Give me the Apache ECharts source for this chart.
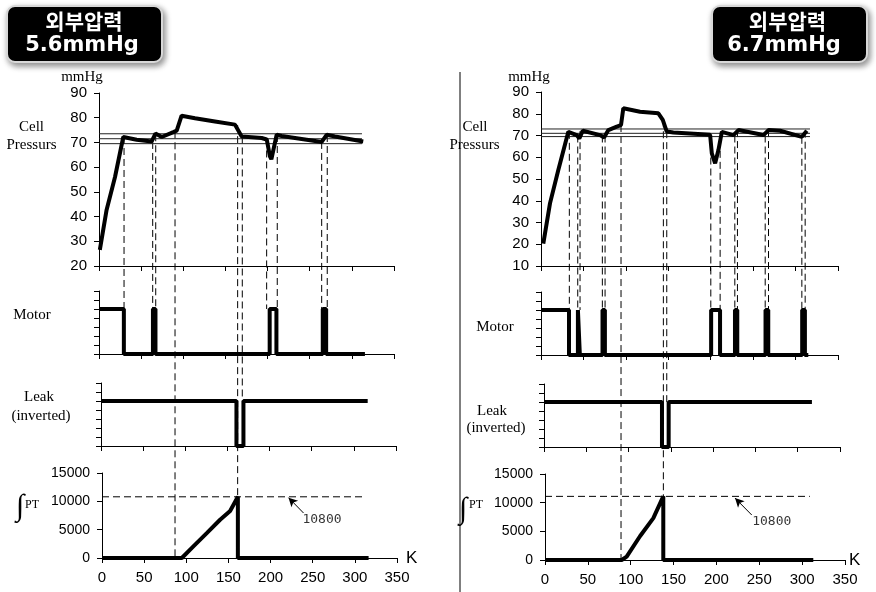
<!DOCTYPE html>
<html>
<head>
<meta charset="utf-8">
<script src="https://cdn.jsdelivr.net/npm/echarts@6/dist/echarts.min.js"></script>
<style>
  html, body { margin: 0; padding: 0; background: #fff; }
  #chart { width: 876px; height: 592px; }
</style>
</head>
<body>
<div id="chart"></div>
<script>
// ---- data ----
const pressureLeft = [[1,26.5],[9,42.7],[19,56],[28.8,72.2],[44.7,71.1],[62.5,70.4],[64.5,69.6],[67,73.6],[74.4,72.2],[88.2,74.2],[92.2,74.8],[98,80.8],[113.9,79.8],[137.6,78.5],[161.3,77.2],[169.3,72.4],[193,71.8],[199,71.2],[202.8,64.4],[204.5,63.2],[206.8,64],[210.8,73.1],[216.7,72.6],[264.2,70.2],[266,69.8],[270.1,73.1],[280,72.4],[313.5,70.4]];
const pressureRight = [[2.7,20.3],[10.6,38.8],[20.4,54.1],[32.2,71.7],[42.1,70.2],[45.2,68.6],[49.2,72.2],[69.6,70.2],[74.3,69.1],[79.4,72.5],[89.3,74.1],[94.3,74.8],[97,82.5],[116.7,80.9],[138.3,80.2],[143.5,77.2],[148.2,71.8],[156,71.4],[199.3,70.3],[201.3,61.8],[205.2,57.2],[209.1,63.3],[213.1,71.7],[226.8,70.2],[232.7,72.5],[262.2,70.2],[268.1,72.5],[281.8,72.2],[307.4,69.4],[313.3,72.2]];

// thin reference lines in the pressure panels
const bandLeft = [69.5, 71.5, 73.5];
const bandRight = [69.5, 71, 73];
const bandEndLeft = 312;
const bandEndRight = 317;

// motor on-intervals (K)
const motorOnLeft = [[0,29.5],[64,67],[202.5,210.5],[265.5,269.5]];
const motorEndLeft = 315.5;
const motorOnRight = [[0,33],[43.5,45.8],[72.5,75.3],[200.5,211],[228.6,231.3],[264.6,267.8],[307.8,311]];
const motorEndRight = 315;

// leak (inverted) off-interval
const leakOffLeft = [160.7, 169];
const leakEndLeft = 316.4;
const leakOffRight = [139.5, 147.4];
const leakEndRight = 316.8;

// integral of P*T
const integralLeft = [[0,0],[94.7,0],[108.4,2050],[124.3,4400],[140.1,6750],[152,8300],[161.2,10800],[161.2,0],[316.3,0]];
const integralRight = [[0,0],[89.5,0],[95.3,580],[110.8,4140],[126.4,7300],[138,11100],[138,0],[313,0]];
const thresholdLeft = 10800, thresholdRight = 11100;
const thresholdEndLeft = 312.7, thresholdEndRight = 309;
const thresholdLabel = '10800';
const arrowLeft = [[239.1,7940],[221.3,10650]];
const arrowRight = [[241.2,7850],[221.7,10800]];
const labelPosLeft = [261,6760];
const labelPosRight = [264.5,6680];

// dashed guide lines: x (K), start value in pressure panel, end panel (1 motor, 2 leak, 3 integral), end value
const guidesLeft = [
  [29.7,72.2,1,1],[63.7,70.2,1,1],[67.3,73.3,1,1],[90.2,74.5,3,0],[164.5,77,3,0],
  [170,72.4,2,1],[198.9,71.2,1,1],[211.5,73,1,1],[264.2,70.2,1,1],[270.8,73,1,1]
];
const guidesRight = [
  [33.4,71.7,1,1],[43.3,70,1,1],[46,72,1,1],[72.3,70,1,1],[75.5,70,1,1],[94.3,74.8,3,0],
  [144.2,77,3,0],[148.2,72,2,1],[200.1,70,1,1],[211.1,68,1,1],[228.4,70,1,1],[231.5,72.5,1,1],
  [264.2,70,1,1],[268.1,72.5,1,1],[307.4,69.4,1,1],[311.3,72.2,1,1]
];

const titles = [['외부압력','5.6mmHg'],['외부압력','6.7mmHg']];

// ---- layout ----
const grids = [
  {left:99, top:93, width:295, height:173},
  {left:99, top:291, width:295, height:63},
  {left:101, top:383, width:295, height:63},
  {left:102, top:473, width:295, height:85},
  {left:541, top:92, width:297, height:174},
  {left:541, top:292, width:297, height:63},
  {left:544, top:384, width:296, height:63},
  {left:545, top:474, width:300, height:86}
];

const chart = echarts.init(document.getElementById('chart'));

function pulses(on, end) {
  const pts = [];
  let cur = 0;
  on.forEach(([a, b]) => {
    if (a > cur) pts.push([cur, 0], [a, 0]);
    pts.push([a, 1], [b, 1], [b, 0]);
    cur = b;
  });
  pts.push([end, 0]);
  return pts;
}
function leak(off, end) {
  return [[0,1],[off[0],1],[off[0],0],[off[1],0],[off[1],1],[end,1]];
}

const black = '#000';
const tick = { show: true, length: 5, lineStyle: { color: black } };

const xAxes = grids.map((g, i) => {
  const bottom = i % 4 === 3;
  return {
    type: 'value', gridIndex: i, min: 0, max: 350, interval: 50,
    axisLine: { show: true, onZero: false, lineStyle: { color: black } },
    axisTick: tick,
    axisLabel: { show: bottom, fontSize: 15, color: black, margin: 12, fontFamily: 'Liberation Sans' },
    splitLine: { show: false },
    name: bottom ? 'K' : '',
    nameLocation: 'end',
    nameGap: i === 3 ? 9 : 4,
    nameTextStyle: { fontSize: 17, color: black, fontFamily: 'Liberation Sans' }
  };
});

const yAxes = grids.map((g, i) => {
  const k = i % 4;
  const base = {
    type: 'value', gridIndex: i,
    axisLine: { show: true, lineStyle: { color: black } },
    axisTick: tick,
    splitLine: { show: false },
    axisLabel: { show: k === 0 || k === 3, fontSize: k === 0 ? 15 : 14, color: black, margin: 12,
      fontFamily: 'Liberation Sans', formatter: v => String(v) }
  };
  if (k === 0) return Object.assign(base, { min: i === 0 ? 20 : 10, max: 90, interval: 10 });
  if (k === 3) return Object.assign(base, { min: 0, max: 15000, interval: 5000 });
  return Object.assign(base, { min: 0, max: 1.4, interval: 0.2 });
});

function thick(idx, data) {
  return { type: 'line', xAxisIndex: idx, yAxisIndex: idx, data, showSymbol: false, symbol: 'none',
    lineStyle: { color: black, width: 4 }, animation: false, silent: true, z: 3 };
}

const series = [];
[
  [0, pressureLeft, bandLeft, bandEndLeft, motorOnLeft, motorEndLeft, leakOffLeft, leakEndLeft, integralLeft, thresholdLeft, thresholdEndLeft, arrowLeft, labelPosLeft],
  [4, pressureRight, bandRight, bandEndRight, motorOnRight, motorEndRight, leakOffRight, leakEndRight, integralRight, thresholdRight, thresholdEndRight, arrowRight, labelPosRight]
].forEach(([g, pr, band, bandEnd, mOn, mEnd, lOff, lEnd, integ, thr, thrEnd, arrow, lab]) => {
  band.forEach(v => series.push({
    type: 'line', xAxisIndex: g, yAxisIndex: g, data: [[0, v], [bandEnd, v]], symbol: 'none',
    lineStyle: { color: '#222', width: 1 }, animation: false, silent: true, z: 2
  }));
  series.push(thick(g, pr));
  series.push(thick(g + 1, pulses(mOn, mEnd)));
  series.push(thick(g + 2, leak(lOff, lEnd)));
  series.push({
    type: 'line', xAxisIndex: g + 3, yAxisIndex: g + 3, data: [[0, thr], [thrEnd, thr]], symbol: 'none',
    lineStyle: { color: black, width: 1, type: [7, 4] }, animation: false, silent: true, z: 2,
    markLine: {
      silent: true, animation: false, symbol: ['none', 'arrow'], symbolSize: [7, 9],
      lineStyle: { color: black, width: 1, type: 'solid' }, label: { show: false },
      data: [[{ coord: arrow[0] }, { coord: arrow[1] }]]
    }
  });
  series.push(thick(g + 3, integ));
  series.push({
    type: 'scatter', xAxisIndex: g + 3, yAxisIndex: g + 3, data: [lab], symbolSize: 0, silent: true, animation: false,
    label: { show: true, position: 'inside', formatter: thresholdLabel, fontSize: 13, color: black, fontFamily: 'DejaVu Sans Mono' }
  });
});

chart.setOption({
  animation: false,
  grid: grids,
  xAxis: xAxes,
  yAxis: yAxes,
  series
});

// ---- graphics: dashed guides, labels, title boxes ----
const graphics = [];
[[0, guidesLeft], [4, guidesRight]].forEach(([g, guides]) => {
  guides.forEach(([x, y0, panel, y1]) => {
    const p0 = chart.convertToPixel({ gridIndex: g }, [x, y0]);
    const p1 = chart.convertToPixel({ gridIndex: g + panel }, [x, y1]);
    graphics.push({
      type: 'line', z: 1, silent: true,
      shape: { x1: p0[0], y1: p0[1], x2: p0[0], y2: p1[1] },
      style: { stroke: black, lineWidth: 1, lineDash: [7, 4] }
    });
  });
});

graphics.push({ type: 'line', silent: true, shape: { x1: 460, y1: 72, x2: 460, y2: 592 }, style: { stroke: black, lineWidth: 1 } });

const serif = 'Liberation Serif';
function txt(x, y, text, size, font) {
  return { type: 'text', x, y, silent: true,
    style: { text, fill: black, font: `${size}px '${font}'`, align: 'center', verticalAlign: 'middle' } };
}
[
  [82, 77, 'mmHg'], [31.5, 127, 'Cell'], [31.5, 145, 'Pressurs'], [32, 315, 'Motor'], [39, 397, 'Leak'], [41, 416, '(inverted)'],
  [529, 77, 'mmHg'], [475, 127, 'Cell'], [474.5, 145, 'Pressurs'], [495, 327, 'Motor'], [492, 411, 'Leak'], [496, 428, '(inverted)']
].forEach(([x, y, t]) => graphics.push(txt(x, y, t, 15, serif)));

graphics.push(txt(20, 507, '∫', 30, serif));
graphics.push(txt(32, 505, 'PT', 12, serif));
graphics.push(txt(463, 510, '∫', 30, serif));
graphics.push(txt(476, 505, 'PT', 12, serif));

[[7, 84, 82, titles[0]], [712, 787.5, 784, titles[1]]].forEach(([bx, cx1, cx2, t]) => {
  graphics.push({
    type: 'rect', silent: true, shape: { x: bx, y: 6, width: 155, height: 56, r: 8 },
    style: { fill: '#000', stroke: '#d8d8d8', lineWidth: 2, shadowBlur: 6, shadowColor: 'rgba(0,0,0,0.45)', shadowOffsetX: 2, shadowOffsetY: 3 }
  });
  graphics.push({ type: 'text', x: cx1, y: 21.5, silent: true,
    style: { text: t[0], fill: '#fff', font: "bold 21px 'Noto Sans CJK KR'", align: 'center', verticalAlign: 'middle' } });
  graphics.push({ type: 'text', x: cx2, y: 46, silent: true,
    style: { text: t[1], fill: '#fff', font: "bold 21px 'DejaVu Sans'", align: 'center', verticalAlign: 'middle' } });
});

chart.setOption({ graphic: graphics });
</script>
</body>
</html>
